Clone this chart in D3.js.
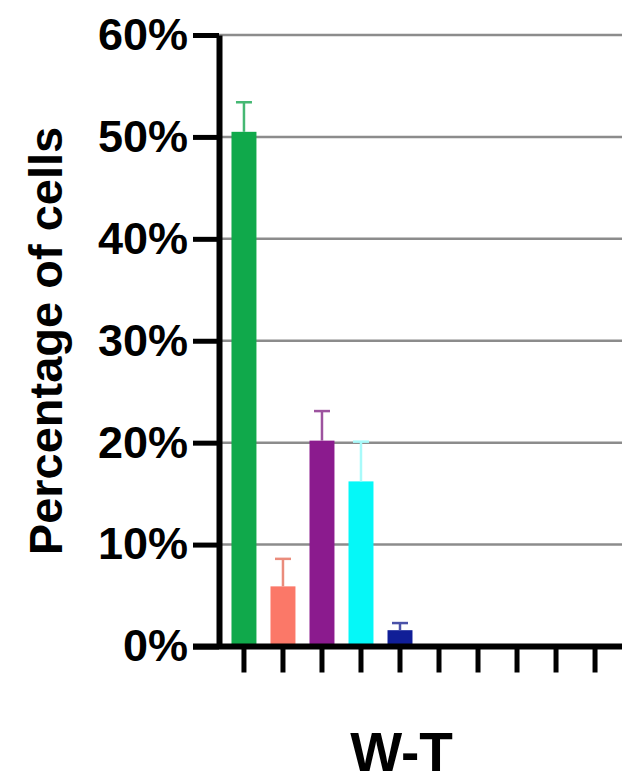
<!DOCTYPE html>
<html>
<head>
<meta charset="utf-8">
<script src="https://cdn.jsdelivr.net/npm/d3@7"></script>
<style>
  html, body { margin: 0; padding: 0; background: #fff; }
  svg { display: block; }
  text { font-family: "Liberation Sans", Arial, sans-serif; font-weight: bold; fill: #000; }
</style>
</head>
<body>
<svg id="chart" width="622" height="784"></svg>
<script>
// Cell-type groups along the x axis (only the first five carry cells)
const categories = ["G1", "G2", "G3", "G4", "G5", "G6", "G7", "G8", "G9", "G10"];
// Mean percentage of cells per group
const means = [50.5, 5.9, 20.2, 16.2, 1.6, 0, 0, 0, 0, 0];
// Upper error (SD) per group
const errors = [2.9, 2.7, 2.9, 3.9, 0.7, 0, 0, 0, 0, 0];
const barColors = ["#10a94b", "#fb7868", "#8b1b8e", "#05f8f8", "#101e97", "#000", "#000", "#000", "#000", "#000"];
const errColors = ["#45b873", "#ea8c7c", "#9d539f", "#a8fafa", "#4a52a8", "#000", "#000", "#000", "#000", "#000"];
const yTicks = [0, 10, 20, 30, 40, 50, 60];
const yTitle = "Percentage of cells";
const groupTitle = "W-T";

const svg = d3.select("#chart");
const plot = { left: 219, right: 620, top: 35, bottom: 646.5 };

const x = d3.scaleBand()
  .domain(categories)
  .range([plot.left, plot.right])
  .paddingInner(0.36)
  .paddingOuter(0.32);

const y = d3.scaleLinear()
  .domain([0, 60])
  .range([plot.bottom, plot.top]);

// horizontal grid lines
svg.append("g")
  .selectAll("line")
  .data(yTicks.filter(t => t > 0))
  .join("line")
  .attr("x1", plot.left)
  .attr("x2", plot.right + 2)
  .attr("y1", d => y(d))
  .attr("y2", d => y(d))
  .attr("stroke", "#8c8c8c")
  .attr("stroke-width", 2.5);

// bars
const data = categories.map((c, i) => ({ c, v: means[i], e: errors[i], fill: barColors[i], ec: errColors[i] }));
const shown = data.filter(d => d.v > 0);

svg.append("g")
  .selectAll("rect")
  .data(shown)
  .join("rect")
  .attr("x", d => x(d.c))
  .attr("width", x.bandwidth())
  .attr("y", d => y(d.v))
  .attr("height", d => y(0) - y(d.v))
  .attr("fill", d => d.fill);

// error bars (upper only)
const eb = svg.append("g").selectAll("g").data(shown).join("g");
eb.append("line")
  .attr("x1", d => x(d.c) + x.bandwidth() / 2)
  .attr("x2", d => x(d.c) + x.bandwidth() / 2)
  .attr("y1", d => y(d.v))
  .attr("y2", d => y(d.v + d.e))
  .attr("stroke", d => d.ec)
  .attr("stroke-width", 2.5);
eb.append("line")
  .attr("x1", d => x(d.c) + x.bandwidth() / 2 - 8)
  .attr("x2", d => x(d.c) + x.bandwidth() / 2 + 8)
  .attr("y1", d => y(d.v + d.e))
  .attr("y2", d => y(d.v + d.e))
  .attr("stroke", d => d.ec)
  .attr("stroke-width", 2.5);

// y axis
const yAxis = svg.append("g")
  .attr("transform", `translate(${plot.left},0)`)
  .call(d3.axisLeft(y).tickValues(yTicks).tickFormat(d => d + "%").tickSize(26).tickSizeOuter(0).tickPadding(5));
yAxis.select(".domain").attr("stroke", "#000").attr("stroke-width", 6);
yAxis.selectAll(".tick line").attr("stroke", "#000").attr("stroke-width", 5);
yAxis.selectAll(".tick text")
  .attr("font-size", 45)
  .attr("font-family", "Liberation Sans, Arial, sans-serif")
  .attr("font-weight", "bold")
  .attr("fill", "#000");

// x axis
const xAxis = svg.append("g")
  .attr("transform", `translate(0,${plot.bottom})`)
  .call(d3.axisBottom(x).tickSize(26).tickSizeOuter(0).tickFormat(""));
xAxis.select(".domain").remove();
xAxis.selectAll(".tick line").attr("stroke", "#000").attr("stroke-width", 5);
xAxis.append("line")
  .attr("x1", plot.left - 26)
  .attr("x2", plot.right + 2)
  .attr("y1", 0)
  .attr("y2", 0)
  .attr("stroke", "#000")
  .attr("stroke-width", 6);

// axis title
svg.append("text")
  .attr("transform", "translate(62,341) rotate(-90)")
  .attr("text-anchor", "middle")
  .attr("font-size", 47)
  .text(yTitle);

// group label
svg.append("text")
  .attr("x", 401.5)
  .attr("y", 771)
  .attr("text-anchor", "middle")
  .attr("font-size", 55)
  .text(groupTitle);
</script>
</body>
</html>
